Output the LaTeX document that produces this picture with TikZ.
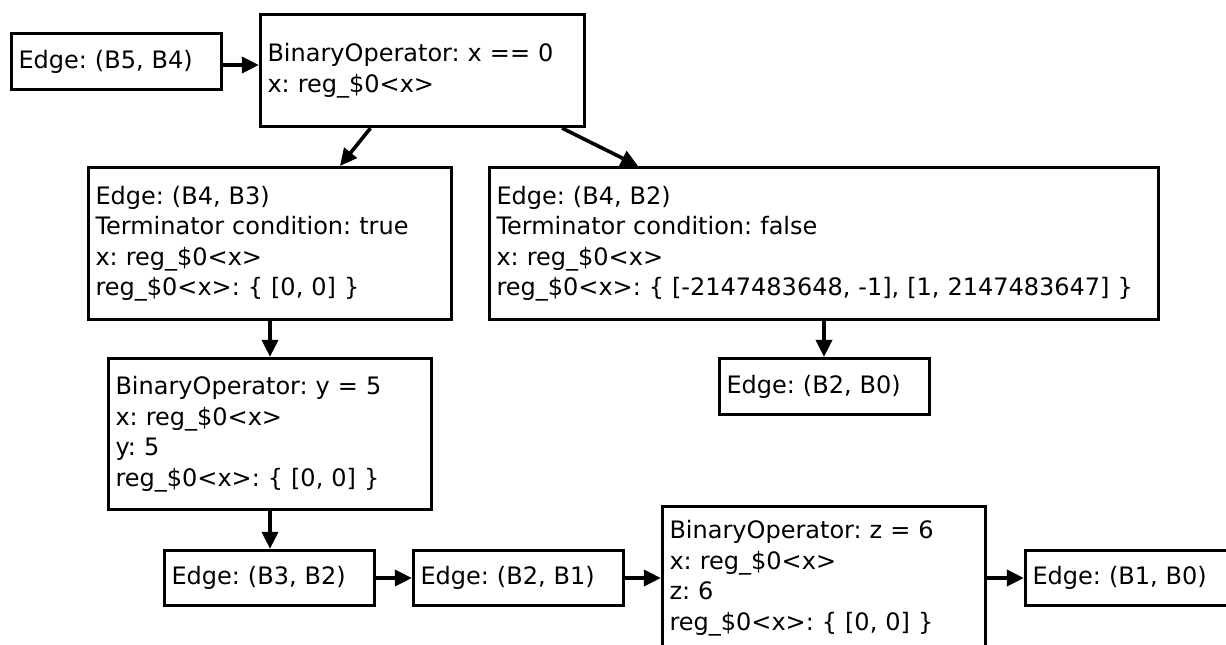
\documentclass[tikz,border=0pt]{standalone}
\usepackage{fontspec}
\setmainfont{DejaVu Sans}
\usetikzlibrary{arrows.meta}
\frenchspacing
\tikzset{
  box/.style={draw, line width=3.2pt, inner xsep=7pt, inner ysep=0pt, align=left,
    font=\frenchspacing\fontsize{24pt}{30.5pt}\selectfont},
  arr/.style={line width=3.6pt, -{Triangle[length=17pt,width=16pt]}}
}
\begin{document}
\begin{tikzpicture}[x=1pt,y=-1pt]
\fill[white] (0,0) rectangle (1226,645);
\useasboundingbox (0,0) rectangle (1226,645);
\clip (0,0) rectangle (1226,645);

\node[box, text width=196pt, minimum height=56pt] (e54) at (116.5,61.5) {Edge: (B5, B4)};
\node[box, text width=310pt, minimum height=112pt] (bo0) at (422.5,70.5) {BinaryOperator: x == 0\\x: reg\_\$0<x>};
\node[box, text width=349pt, minimum height=152pt] (e43) at (270,243.5) {Edge: (B4, B3)\\Terminator condition: true\\x: reg\_\$0<x>\\reg\_\$0<x>: \{ [0, 0] \}};
\node[box, text width=655pt, minimum height=152pt] (e42) at (824,243.5) {Edge: (B4, B2)\\Terminator condition: false\\x: reg\_\$0<x>\\reg\_\$0<x>: \{ [-2147483648, -1], [1, 2147483647] \}};
\node[box, text width=196pt, minimum height=56pt] (e20) at (824.5,386.5) {Edge: (B2, B0)};
\node[box, text width=309pt, minimum height=151pt] (bo5) at (270,434) {BinaryOperator: y = 5\\x: reg\_\$0<x>\\y: 5\\reg\_\$0<x>: \{ [0, 0] \}};
\node[box, text width=196pt, minimum height=55pt] (e32) at (269.5,578) {Edge: (B3, B2)};
\node[box, text width=196pt, minimum height=55pt] (e21) at (518.5,578) {Edge: (B2, B1)};
\node[box, text width=309pt, minimum height=143pt] (bo6) at (824,578) {BinaryOperator: z = 6\\x: reg\_\$0<x>\\z: 6\\reg\_\$0<x>: \{ [0, 0] \}};
\node[box, text width=196pt, minimum height=55pt] (e10) at (1130.5,578) {Edge: (B1, B0)};

\draw[arr] ([yshift=-3.5pt]e54.east) -- ([yshift=-3.5pt]e54.east -| bo0.west);
\draw[arr] ([xshift=-52pt]bo0.south) -- ([xshift=70pt]e43.north);
\draw[arr] ([xshift=139.5pt]bo0.south) -- ([xshift=-186pt]e42.north);
\draw[arr] (e43.south) -- (bo5.north);
\draw[arr] (e42.south) -- (e42.south |- e20.north);
\draw[arr] (bo5.south) -- (bo5.south |- e32.north);
\draw[arr] (e32.east) -- (e21.west);
\draw[arr] (e21.east) -- (bo6.west);
\draw[arr] (bo6.east) -- (e10.west);
\end{tikzpicture}
\end{document}
